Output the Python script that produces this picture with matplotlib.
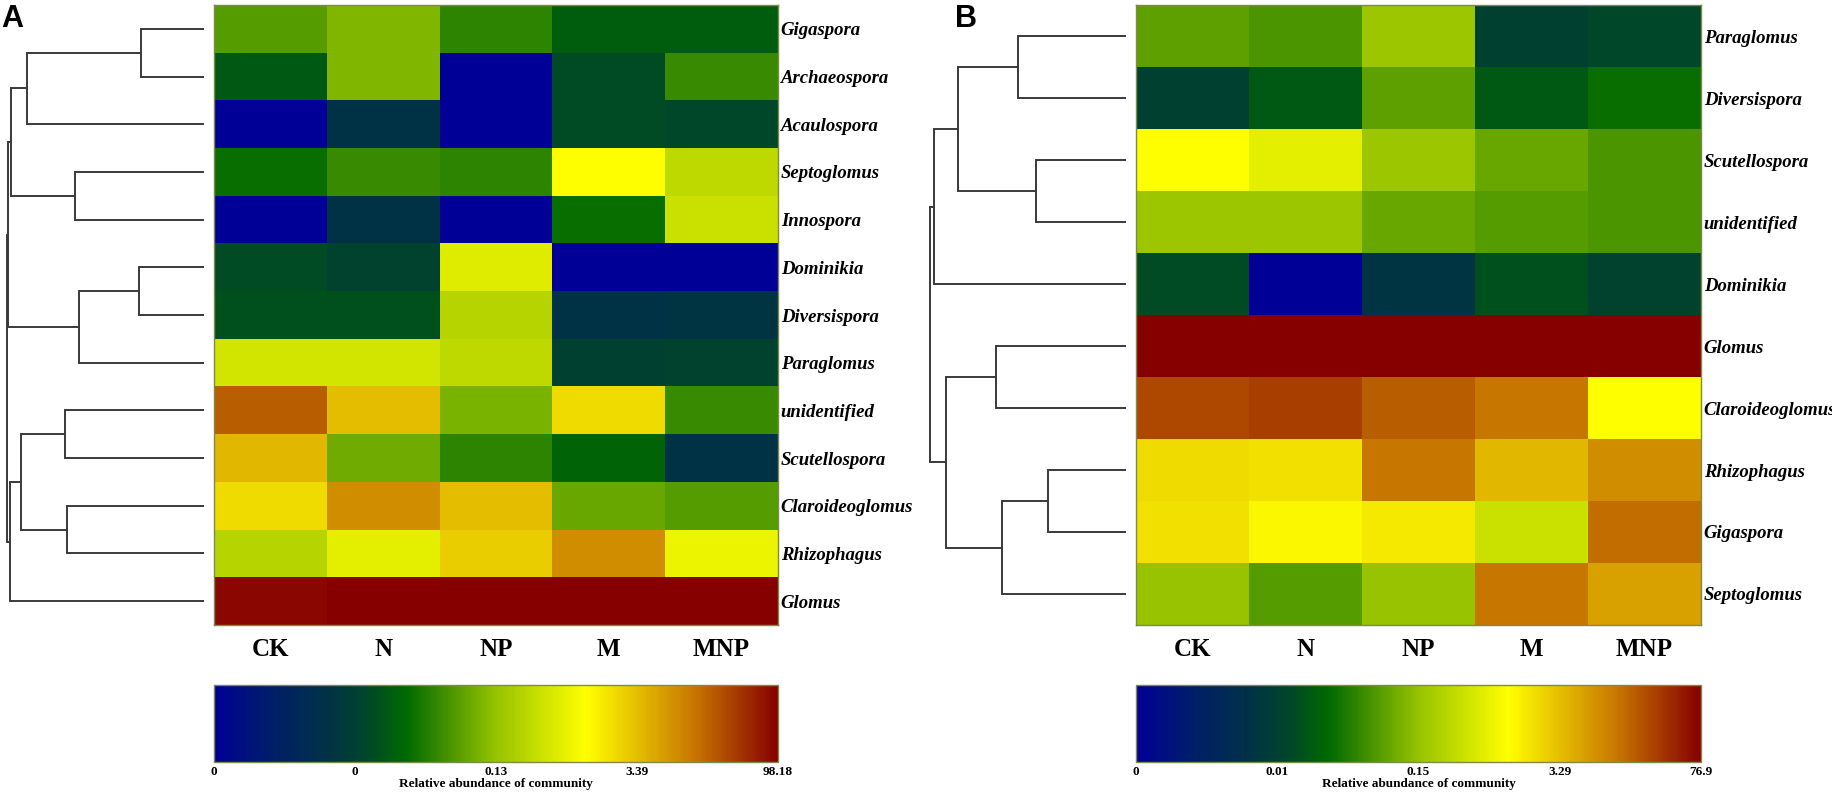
import numpy as np
import matplotlib
matplotlib.use("Agg")
import matplotlib.pyplot as plt
from matplotlib.colors import LinearSegmentedColormap, Normalize
from matplotlib.cm import ScalarMappable

# treatments (columns)
treatments = ['CK', 'N', 'NP', 'M', 'MNP']

# panel A: genera in dendrogram order, values = position on the colour scale (0-1)
genera_a = ['Gigaspora', 'Archaeospora', 'Acaulospora', 'Septoglomus', 'Innospora',
            'Dominikia', 'Diversispora', 'Paraglomus', 'unidentified', 'Scutellospora',
            'Claroideoglomus', 'Rhizophagus', 'Glomus']
values_a = [
    [0.43, 0.48, 0.39, 0.32, 0.32],
    [0.31, 0.48, 0.00, 0.28, 0.40],
    [0.00, 0.20, 0.00, 0.28, 0.27],
    [0.35, 0.40, 0.39, 0.66, 0.56],
    [0.00, 0.20, 0.00, 0.35, 0.58],
    [0.28, 0.26, 0.61, 0.00, 0.00],
    [0.29, 0.29, 0.55, 0.20, 0.21],
    [0.59, 0.59, 0.56, 0.25, 0.26],
    [0.88, 0.75, 0.47, 0.71, 0.40],
    [0.76, 0.46, 0.39, 0.33, 0.20],
    [0.71, 0.82, 0.75, 0.45, 0.43],
    [0.55, 0.62, 0.73, 0.82, 0.63],
    [0.99, 1.00, 1.00, 1.00, 1.00],
]
# linkage rows: (cluster i, cluster j, merge height)
linkage_a = [
    (0, 1, 0.318), (13, 2, 0.894), (3, 4, 0.652), (14, 15, 0.975),
    (5, 6, 0.328), (17, 7, 0.631), (16, 18, 0.990), (8, 9, 0.702),
    (10, 11, 0.692), (20, 21, 0.924), (22, 12, 0.980), (19, 23, 0.995),
]
cbar_labels_a = ['0', '0', '0.13', '3.39', '98.18']

# panel B
genera_b = ['Paraglomus', 'Diversispora', 'Scutellospora', 'unidentified', 'Dominikia',
            'Glomus', 'Claroideoglomus', 'Rhizophagus', 'Gigaspora', 'Septoglomus']
values_b = [
    [0.44, 0.42, 0.51, 0.25, 0.27],
    [0.25, 0.31, 0.44, 0.31, 0.35],
    [0.66, 0.62, 0.51, 0.45, 0.42],
    [0.51, 0.51, 0.45, 0.43, 0.42],
    [0.28, 0.00, 0.21, 0.29, 0.26],
    [1.00, 1.00, 1.00, 1.00, 1.00],
    [0.91, 0.92, 0.88, 0.85, 0.66],
    [0.71, 0.70, 0.85, 0.76, 0.82],
    [0.70, 0.67, 0.69, 0.58, 0.86],
    [0.50, 0.43, 0.50, 0.85, 0.79],
]
linkage_b = [
    (0, 1, 0.548), (2, 3, 0.457), (10, 11, 0.853), (12, 4, 0.975),
    (5, 6, 0.660), (7, 8, 0.396), (15, 9, 0.629), (14, 16, 0.914),
    (13, 17, 0.995),
]
cbar_labels_b = ['0', '0.01', '0.15', '3.29', '76.9']

cmap = LinearSegmentedColormap.from_list('abund', [
    (0.00, '#000096'), (0.10, '#001E69'), (0.20, '#003246'), (0.27, '#00462A'),
    (0.34, '#006900'), (0.50, '#96C300'), (0.66, '#FFFF00'), (0.85, '#C87800'),
    (1.00, '#870000')], N=256)

W, H = 1833, 798


def box(x0, y0, x1, y1):
    return [x0 / W, 1 - y1 / H, (x1 - x0) / W, (y1 - y0) / H]


def draw_dendro(ax, links, n):
    pos = {i: float(i) for i in range(n)}
    hgt = {i: 0.0 for i in range(n)}
    for k, (a, b, h) in enumerate(links):
        ya, yb = pos[a], pos[b]
        ax.plot([hgt[a], h, h, hgt[b]], [ya, ya, yb, yb], color='#3a3a3a', lw=1.4,
                solid_joinstyle='miter')
        pos[n + k] = (ya + yb) / 2
        hgt[n + k] = h
    ax.set_xlim(1.0, 0)
    ax.set_ylim(n - 0.5, -0.5)
    ax.axis('off')


def panel(values, genera, links, cbar_labels, x_dendro, x_heat, x_heat_end, letter, x_letter):
    n = len(genera)
    axd = fig.add_axes(box(x_dendro, 5, x_heat - 10, 625))
    draw_dendro(axd, links, n)

    ax = fig.add_axes(box(x_heat, 5, x_heat_end, 625))
    ax.imshow(np.array(values), cmap=cmap, vmin=0, vmax=1, aspect='auto',
              interpolation='nearest')
    ax.set_xticks(range(len(treatments)))
    ax.set_xticklabels(treatments, fontsize=18, fontweight='bold', family='Liberation Serif')
    ax.set_yticks(range(n))
    ax.set_yticklabels(genera, fontsize=13.5, fontweight='bold', fontstyle='italic',
                       family='Liberation Serif')
    ax.yaxis.tick_right()
    ax.tick_params(axis='x', length=0, pad=9)
    ax.tick_params(axis='y', length=0, pad=2)
    for s in ax.spines.values():
        s.set_color('#7d8a4a')
        s.set_linewidth(1.0)

    cax = fig.add_axes(box(x_heat, 685, x_heat_end, 762))
    cb = fig.colorbar(ScalarMappable(Normalize(0, 1), cmap), cax=cax, orientation='horizontal')
    cb.set_ticks([0, 0.25, 0.5, 0.75, 1.0])
    cb.set_ticklabels(cbar_labels)
    cax.tick_params(length=0, pad=3)
    for t in cax.get_xticklabels():
        t.set_fontsize(9.5)
        t.set_fontweight('bold')
        t.set_family('Liberation Serif')
    cb.set_label('Relative abundance of community', fontsize=9.5, fontweight='bold',
                 family='Liberation Serif', labelpad=0)
    cb.outline.set_edgecolor('#7d8a4a')
    cb.outline.set_linewidth(1.0)

    fig.text(x_letter / W, 1 - 4 / H, letter, fontsize=22, fontweight='bold',
             family='Liberation Sans', ha='left', va='top')


fig = plt.figure(figsize=(W / 100, H / 100), dpi=100)
panel(values_a, genera_a, linkage_a, cbar_labels_a, 6, 214, 778, 'A', 1)
panel(values_b, genera_b, linkage_b, cbar_labels_b, 929, 1136, 1701, 'B', 955)
fig.savefig('out.png', dpi=100)
